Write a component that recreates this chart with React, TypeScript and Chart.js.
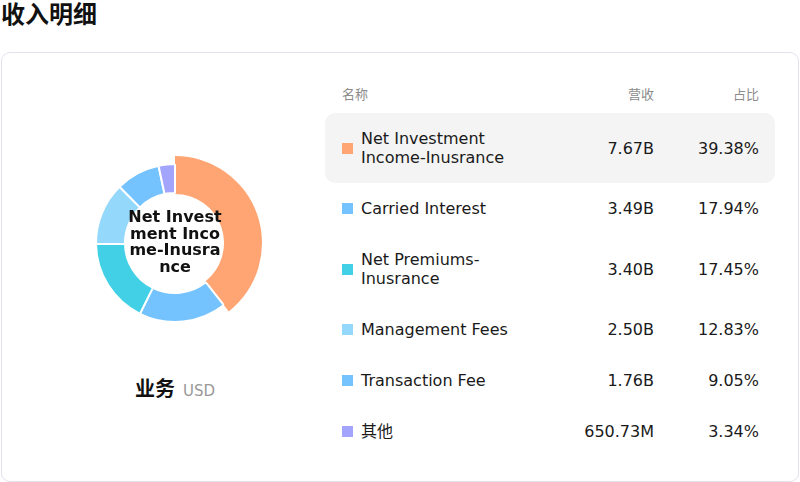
import React, { useEffect, useRef } from "react";
import { Chart, registerables } from "chart.js";

Chart.register(...registerables);

// data
const names = [
  "Net Investment Income-Inusrance",
  "Carried Interest",
  "Net Premiums-Inusrance",
  "Management Fees",
  "Transaction Fee",
  "其他",
];
const revenue = [7.67, 3.49, 3.4, 2.5, 1.76, 0.65073]; // billions USD
const revenueLabels = ["7.67B", "3.49B", "3.40B", "2.50B", "1.76B", "650.73M"];
const shareLabels = ["39.38%", "17.94%", "17.45%", "12.83%", "9.05%", "3.34%"];
const colors = ["#FFA574", "#74C3FF", "#41D0E5", "#94D8FC", "#74C3FF", "#A3A5FC"];

const FONT = '"DejaVu Sans", "Noto Sans CJK SC", sans-serif';

function Donut() {
  const canvasRef = useRef<HTMLCanvasElement | null>(null);

  useEffect(() => {
    if (!canvasRef.current) return;
    const chart = new Chart(canvasRef.current, {
      type: "doughnut",
      data: {
        labels: names,
        datasets: [
          {
            // outer band: only the selected (first) slice sticks out
            data: revenue,
            weight: 8,
            backgroundColor: colors.map((c, i) => (i === 0 ? c : "rgba(0,0,0,0)")),
            borderWidth: 0,
          },
          {
            data: revenue,
            weight: 29,
            backgroundColor: colors,
            borderColor: colors.map((c, i) => (i === 0 ? c : "#ffffff")),
            borderWidth: 2,
          },
        ],
      },
      options: {
        responsive: false,
        animation: false,
        events: [],
        radius: 87,
        cutout: "57.5%",
        layout: { padding: 0 },
        plugins: { legend: { display: false }, tooltip: { enabled: false } },
      },
    });
    return () => chart.destroy();
  }, []);

  return (
    <canvas
      ref={canvasRef}
      width={200}
      height={200}
      style={{ position: "absolute", left: 75, top: 143, width: 200, height: 200 }}
    />
  );
}

export default function App() {
  let y = 113;
  const rows = names.map((name, i) => {
    const twoLines = i === 0 || i === 2;
    const h = twoLines ? 70 : 51;
    const top = y;
    y += h;
    return (
      <div
        key={name}
        style={{
          position: "absolute",
          left: 325,
          top,
          width: 450,
          height: h,
          display: "flex",
          alignItems: "center",
          background: i === 0 ? "#f4f4f4" : "transparent",
          borderRadius: 10,
          boxSizing: "border-box",
          fontSize: 16,
          lineHeight: "19px",
          color: "#1a1a1a",
        }}
      >
        <div style={{ width: 11, height: 11, background: colors[i], marginLeft: 17, marginRight: 8, flexShrink: 0 }} />
        <div style={{ width: 170 }}>{name}</div>
        <div style={{ width: 123, textAlign: "right" }}>{revenueLabels[i]}</div>
        <div style={{ width: 105, textAlign: "right" }}>{shareLabels[i]}</div>
      </div>
    );
  });

  return (
    <div
      style={{
        position: "fixed",
        left: 0,
        top: 0,
        width: 800,
        height: 482,
        background: "#ffffff",
        fontFamily: FONT,
      }}
    >
      <div style={{ position: "absolute", left: 1, top: 0, fontSize: 24, lineHeight: "31px", fontWeight: 700, color: "#111" }}>
        收入明细
      </div>
      <div
        style={{
          position: "absolute",
          left: 1,
          top: 52,
          width: 798,
          height: 430,
          boxSizing: "border-box",
          border: "1px solid #e3e1ee",
          borderRadius: 9,
        }}
      />
      <Donut />
      <div
        style={{
          position: "absolute",
          left: 126,
          top: 209,
          width: 98,
          textAlign: "center",
          fontSize: 16,
          lineHeight: "16.5px",
          fontWeight: 700,
          wordBreak: "break-all",
          color: "#111",
        }}
      >
        {names[0]}
      </div>
      <div style={{ position: "absolute", left: 75, top: 377, width: 200, textAlign: "center", lineHeight: "24px" }}>
        <span style={{ fontSize: 20, fontWeight: 700, color: "#111" }}>业务</span>
        <span style={{ fontSize: 15, color: "#999", marginLeft: 8 }}>USD</span>
      </div>
      <div style={{ position: "absolute", left: 325, top: 86, width: 450, fontSize: 13, lineHeight: "18px", color: "#8c8c8c", display: "flex" }}>
        <div style={{ marginLeft: 17, width: 189 }}>名称</div>
        <div style={{ width: 123, textAlign: "right" }}>营收</div>
        <div style={{ width: 105, textAlign: "right" }}>占比</div>
      </div>
      {rows}
    </div>
  );
}
